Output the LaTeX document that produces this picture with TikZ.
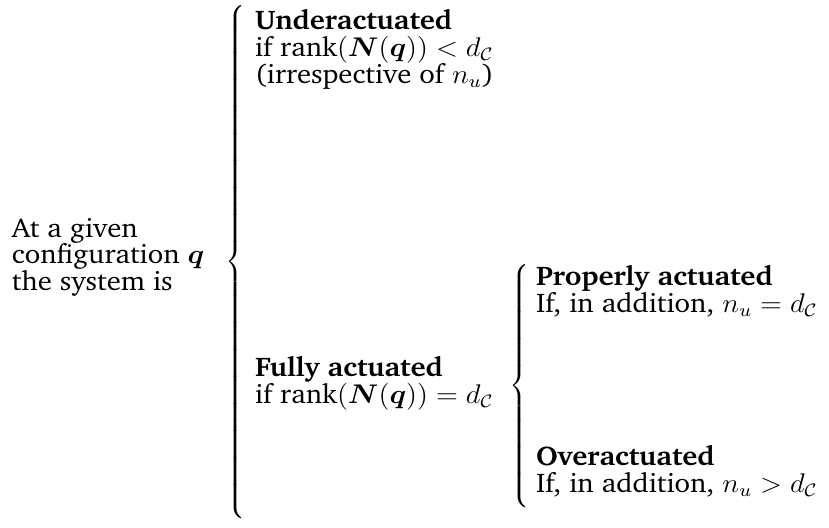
\RequirePackage{fix-cm}
\documentclass[tikz,border=0pt]{standalone}
\usepackage[T1]{fontenc}
\usepackage{charter}
\usepackage{amsmath,bm}
\usepackage{graphicx}
\newcommand{\dC}{d_{\mathcal{C}}}
\newcommand{\wide}[1]{\scalebox{1.065}[1]{#1}}
\begin{document}
\begin{tikzpicture}[x=0.44444pt,y=-0.44444pt,
  txt/.style={inner sep=0pt,outer sep=0pt,anchor=base west,font=\fontsize{12pt}{12pt}\selectfont},
  brc/.style={inner sep=0pt,outer sep=0pt,anchor=west}]
\useasboundingbox (0,0) rectangle (829,527);
% left description
\node[txt] (l1) at (12,237) {\wide{At a given}};
\node[txt] (l2) at (12,263) {\wide{configuration $\bm{q}$}};
\node[txt] (l3) at (12,290) {\wide{the system is}};
% big brace
\node[brc] (bigbrace) at (225,262) {$\left\{\vrule height 118pt depth 113pt width 0pt\right.$};
% underactuated
\node[txt] (u1) at (255,29) {\wide{\textbf{Underactuated}}};
\node[txt] (u2) at (255,56) {\wide{if rank$(\bm{N}(\bm{q}))<\dC$}};
\node[txt] (u3) at (255,83) {\wide{(irrespective of $n_u$)}};
% fully actuated
\node[txt] (f1) at (255,376) {\wide{\textbf{Fully actuated}}};
\node[txt] (f2) at (255,403) {\wide{if rank$(\bm{N}(\bm{q}))=\dC$}};
% small brace
\node[brc] (smallbrace) at (509,386) {$\left\{\vrule height 58pt depth 53pt width 0pt\right.$};
% properly actuated
\node[txt] (p1) at (536,285) {\wide{\textbf{Properly actuated}}};
\node[txt] (p2) at (536,312) {\wide{If, in addition, $n_u=\dC$}};
% overactuated
\node[txt] (o1) at (536,465) {\wide{\textbf{Overactuated}}};
\node[txt] (o2) at (536,492) {\wide{If, in addition, $n_u>\dC$}};
\end{tikzpicture}
\end{document}
